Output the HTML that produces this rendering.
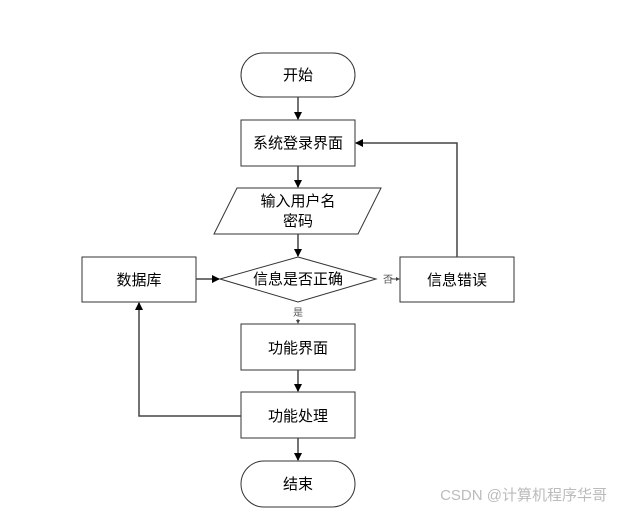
<!DOCTYPE html>
<html><head><meta charset="utf-8"><style>
html,body{margin:0;padding:0;background:#fff;}
svg text{font-family:"Liberation Sans","Noto Sans CJK SC",sans-serif;}
</style></head><body>
<svg width="624" height="514" viewBox="0 0 624 514" xmlns="http://www.w3.org/2000/svg">
<defs><marker id="a" markerWidth="8" markerHeight="8" refX="7" refY="4" orient="auto" markerUnits="userSpaceOnUse"><path d="M0,0 L8,4 L0,8 z" fill="#000"/></marker>
<marker id="s" markerWidth="4" markerHeight="4" refX="3" refY="2" orient="auto" markerUnits="userSpaceOnUse"><path d="M0,0 L4,2 L0,4 z" fill="#444"/></marker></defs>
<g fill="#fff" stroke="#333" stroke-width="1">
<rect x="241" y="53" width="114" height="44" rx="22"/>
<rect x="241" y="120" width="114" height="46"/>
<polygon points="237,188 381,188 358,234 214,234"/>
<polygon points="298,257 376,279 298,302 220,279"/>
<rect x="82" y="257" width="114" height="45"/>
<rect x="400" y="257" width="114" height="45"/>
<rect x="241" y="324" width="114" height="46"/>
<rect x="241" y="392" width="114" height="46"/>
<rect x="241" y="461" width="114" height="46" rx="23"/>
</g>
<g stroke="#444" stroke-width="1.5" fill="none">
<line x1="298" y1="97" x2="298" y2="119" marker-end="url(#a)"/>
<line x1="298" y1="166" x2="298" y2="187" marker-end="url(#a)"/>
<line x1="298" y1="234" x2="298" y2="256" marker-end="url(#a)"/>
<line x1="196" y1="279" x2="219" y2="279" marker-end="url(#a)"/>
<line x1="390" y1="279" x2="399" y2="279" stroke-width="1" marker-end="url(#s)"/>
<polyline points="457,257 457,143 356,143" marker-end="url(#a)"/>
<line x1="298" y1="319" x2="298" y2="323" stroke-width="1" marker-end="url(#s)"/>
<line x1="298" y1="370" x2="298" y2="391" marker-end="url(#a)"/>
<line x1="298" y1="438" x2="298" y2="460" marker-end="url(#a)"/>
<polyline points="241,416 139,416 139,303" marker-end="url(#a)"/>
</g>
<g font-size="15" text-anchor="middle" fill="#000">
<text x="298" y="80">开始</text>
<text x="298" y="148">系统登录界面</text>
<text x="298" y="206">输入用户名</text>
<text x="298" y="226">密码</text>
<text x="298" y="284">信息是否正确</text>
<text x="139" y="285">数据库</text>
<text x="457" y="285">信息错误</text>
<text x="298" y="353">功能界面</text>
<text x="298" y="421">功能处理</text>
<text x="298" y="489">结束</text>
</g>
<text x="388" y="283" font-size="10" text-anchor="middle" fill="#555">否</text>
<text x="298" y="316" font-size="10" text-anchor="middle" fill="#555">是</text>
<text x="607" y="500" font-size="15" text-anchor="end" fill="#bbb">CSDN @计算机程序华哥</text>
</svg>
</body></html>
